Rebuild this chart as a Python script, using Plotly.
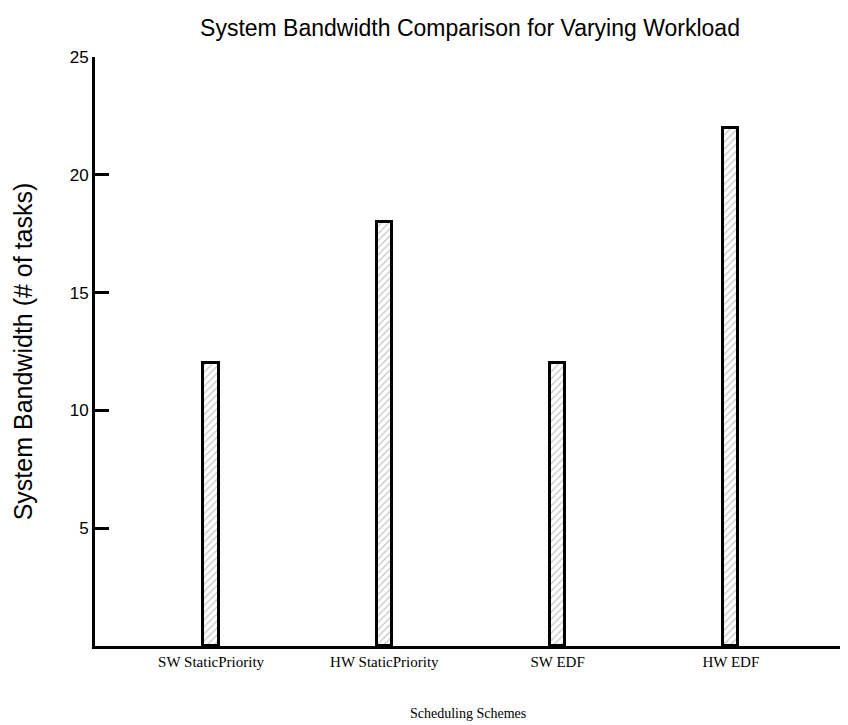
import plotly.graph_objects as go

schemes = ['SW StaticPriority', 'HW StaticPriority', 'SW EDF', 'HW EDF']
bandwidth = [12, 18, 12, 22]
y_ticks = [5, 10, 15, 20, 25]

SANS = 'Liberation Sans, Arial, sans-serif'
SERIF = 'Liberation Serif, Times New Roman, serif'

fig = go.Figure(go.Bar(
    x=schemes, y=bandwidth,
    width=0.088,
    marker=dict(
        color='white',
        line=dict(color='black', width=3),
        pattern=dict(shape='/', fgcolor='#8a8a8a', bgcolor='white', size=5, solidity=0.25),
    ),
))

# x title as an annotation so it doesn't push the bottom margin around
fig.add_annotation(text='Scheduling Schemes', xref='paper', yref='paper',
                   x=0.5, y=-0.114, xanchor='center', yanchor='middle',
                   showarrow=False, font=dict(family=SERIF, size=14, color='black'))

# the page body adds an 8px offset, so the figure is sized to fit inside the window
fig.update_layout(
    width=840, height=717,
    paper_bgcolor='white', plot_bgcolor='white',
    margin=dict(l=87, r=8, t=49, b=79),
    showlegend=False,
    bargap=0,
    title=dict(text='System Bandwidth Comparison for Varying Workload',
               x=0.55, xanchor='center', y=0.972, yanchor='middle',
               font=dict(family=SANS, size=23, color='black')),
    xaxis=dict(
        type='category', range=[-0.67, 3.63],
        showline=True, linecolor='black', linewidth=3,
        ticks='', showgrid=False, zeroline=False,
        tickfont=dict(family=SERIF, size=15, color='black'),
    ),
    yaxis=dict(
        range=[0, 25], tickvals=y_ticks,
        showline=True, linecolor='black', linewidth=3,
        ticks='inside', ticklen=14, tickwidth=3, tickcolor='black',
        showgrid=False, zeroline=False,
        tickfont=dict(family=SANS, size=17, color='black'),
        title=dict(text='System Bandwidth (# of tasks)', standoff=30,
                   font=dict(family=SANS, size=25, color='black')),
    ),
)

fig.write_html('out.html')
